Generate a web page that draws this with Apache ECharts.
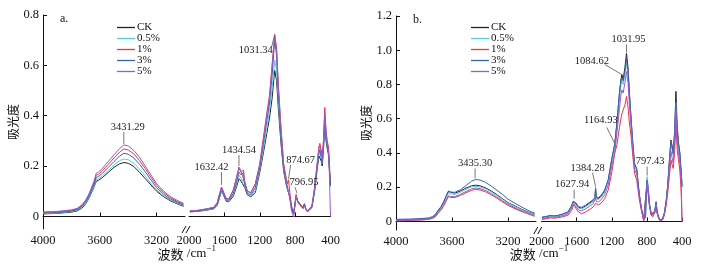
<!DOCTYPE html>
<html><head><meta charset="utf-8">
<script src="https://cdn.jsdelivr.net/npm/echarts@6/dist/echarts.min.js"></script>
<style>html,body{margin:0;padding:0;background:#fff}#c{width:706px;height:266px}</style>
</head><body><div id="c"></div>
<script>
// ---------- DATA ----------
const seriesNames = ['CK', '0.5%', '1%', '3%', '5%'];

// high-wavenumber segment (4000-3000), shared by both panels
const wnHigh = [4000, 3900, 3800, 3760, 3740, 3720, 3700, 3680, 3660, 3640, 3625, 3610, 3580, 3540, 3500, 3460, 3430, 3400, 3360, 3320, 3280, 3240, 3200, 3150, 3100, 3050, 3010];

// panel a, 4000-3000
const aHighCK = [0.010,0.012,0.017,0.022,0.028,0.036,0.050,0.068,0.092,0.118,0.140,0.143,0.155,0.175,0.195,0.209,0.214,0.211,0.198,0.175,0.150,0.125,0.100,0.078,0.061,0.049,0.040];
const aHigh05 = [0.011,0.013,0.019,0.025,0.031,0.040,0.053,0.071,0.095,0.121,0.146,0.149,0.162,0.183,0.204,0.222,0.228,0.225,0.211,0.188,0.160,0.131,0.105,0.082,0.064,0.051,0.043];
const aHigh1  = [0.016,0.018,0.024,0.030,0.037,0.047,0.062,0.081,0.107,0.135,0.164,0.167,0.183,0.207,0.232,0.256,0.268,0.264,0.248,0.222,0.190,0.156,0.123,0.095,0.073,0.058,0.049];
const aHigh3  = [0.013,0.015,0.021,0.027,0.034,0.044,0.058,0.077,0.102,0.128,0.155,0.158,0.172,0.195,0.218,0.240,0.251,0.247,0.232,0.207,0.177,0.145,0.114,0.088,0.068,0.054,0.045];
const aHigh5  = [0.018,0.020,0.026,0.032,0.040,0.050,0.065,0.085,0.112,0.142,0.172,0.175,0.192,0.218,0.245,0.270,0.284,0.280,0.262,0.235,0.200,0.165,0.130,0.100,0.078,0.062,0.052];

// panel a, 2000-400
const wnLowA = [1990,1900,1800,1720,1680,1650,1632,1610,1580,1550,1500,1460,1435,1410,1395,1384,1370,1340,1300,1250,1200,1160,1120,1090,1060,1031,1010,990,960,930,900,885,874,860,840,816,800,790,770,740,710,695,680,660,640,610,580,550,530,520,505,494,480,465,450,437,425,415,408,400];
const aLowCK = [0.018,0.020,0.025,0.030,0.045, 0.080,0.103,0.085,0.060,0.058, 0.080,0.120,0.150,0.140,0.130, 0.135,0.115,0.085,0.078,0.095, 0.175,0.250,0.330,0.390,0.470, 0.580,0.540,0.430,0.290,0.180, 0.125,0.105,0.110,0.080,0.040, 0.015,0.050,0.078,0.060,0.045, 0.035,0.050,0.030,0.020,0.015, 0.035,0.100,0.190,0.240,0.245, 0.220,0.200,0.260,0.355,0.300, 0.270,0.250,0.200,0.160,0.130];
const aLow05 = [0.019,0.021,0.026,0.031,0.047, 0.084,0.107,0.088,0.063,0.061, 0.085,0.130,0.164,0.152,0.140, 0.150,0.122,0.088,0.080,0.102, 0.185,0.265,0.350,0.420,0.510, 0.620,0.580,0.460,0.310,0.190, 0.128,0.108,0.112,0.078,0.035, 0.012,0.052,0.080,0.060,0.045, 0.034,0.050,0.030,0.020,0.016, 0.036,0.102,0.195,0.250,0.258, 0.232,0.210,0.275,0.380,0.315, 0.280,0.260,0.210,0.160,0.120];
const aLow1  = [0.022,0.024,0.030,0.036,0.055, 0.095,0.116,0.097,0.072,0.070, 0.105,0.160,0.196,0.180,0.160, 0.150,0.130,0.100,0.095,0.130, 0.210,0.310,0.410,0.480,0.600, 0.722,0.670,0.520,0.350,0.210, 0.150,0.130,0.145,0.095,0.035, 0.010,0.058,0.088,0.062,0.048, 0.036,0.050,0.032,0.022,0.018, 0.042,0.115,0.215,0.280,0.290, 0.265,0.235,0.300,0.433,0.340, 0.300,0.280,0.240,0.180,0.130];
const aLow3  = [0.020,0.022,0.028,0.033,0.050, 0.088,0.112,0.092,0.066,0.064, 0.090,0.140,0.176,0.165,0.160, 0.175,0.130,0.092,0.085,0.115, 0.195,0.285,0.380,0.450,0.560, 0.700,0.640,0.490,0.320,0.195, 0.132,0.110,0.115,0.075,0.030, 0.010,0.052,0.080,0.058,0.044, 0.033,0.048,0.030,0.018,0.015, 0.038,0.105,0.200,0.255,0.265, 0.235,0.210,0.275,0.390,0.320, 0.280,0.260,0.210,0.160,0.120];
const aLow5  = [0.022,0.024,0.030,0.036,0.055, 0.095,0.117,0.097,0.070,0.068, 0.100,0.155,0.190,0.175,0.170, 0.185,0.140,0.100,0.092,0.128, 0.205,0.300,0.400,0.470,0.600, 0.720,0.660,0.520,0.350,0.205, 0.140,0.115,0.120,0.070,0.020, -0.003,0.050,0.080,0.055,0.042, 0.030,0.045,0.028,0.018,0.015, 0.040,0.110,0.210,0.270,0.280, 0.250,0.225,0.290,0.410,0.330, 0.290,0.270,0.200,0.100,0.000];

// panel b, 4000-3000
const bHighCK = [0.008,0.010,0.014,0.018,0.024,0.035,0.060,0.080,0.110,0.150,0.176,0.170,0.165,0.178,0.195,0.208,0.212,0.208,0.196,0.178,0.157,0.133,0.110,0.090,0.070,0.053,0.042];
const bHigh05 = [0.007,0.009,0.013,0.017,0.022,0.032,0.055,0.075,0.103,0.140,0.165,0.160,0.158,0.170,0.188,0.202,0.205,0.202,0.191,0.173,0.152,0.129,0.107,0.087,0.068,0.051,0.040];
const bHigh1  = [0.003,0.005,0.009,0.013,0.018,0.026,0.047,0.065,0.090,0.122,0.145,0.140,0.140,0.152,0.168,0.182,0.187,0.184,0.173,0.156,0.136,0.114,0.094,0.074,0.057,0.042,0.030];
const bHigh3  = [0.012,0.014,0.018,0.022,0.028,0.040,0.065,0.085,0.115,0.152,0.178,0.172,0.170,0.185,0.210,0.235,0.245,0.242,0.228,0.207,0.183,0.158,0.130,0.106,0.083,0.062,0.048];
const bHigh5  = [0.005,0.007,0.011,0.015,0.020,0.028,0.050,0.068,0.094,0.128,0.150,0.145,0.145,0.158,0.175,0.190,0.195,0.192,0.181,0.163,0.143,0.121,0.100,0.080,0.062,0.046,0.034];

// panel b, 2000-400
const wnLowB = [1995,1950,1900,1880,1860,1820,1760,1700,1660,1640,1628,1610,1580,1544,1500,1450,1410,1392,1384,1376,1350,1320,1280,1240,1200,1165,1140,1112,1095,1085,1070,1050,1032,1015,1000,980,960,940,915,900,885,860,836,815,797,785,770,750,733,710,695,685,670,650,638,620,600,580,564,545,526,512,500,485,469,455,440,425,412,405,400];
const bLowCK = [0.022,0.025,0.032,0.036,0.030, 0.032,0.040,0.052,0.085,0.112, 0.122,0.105,0.083,0.078,0.090, 0.108,0.122,0.135,0.190,0.138, 0.135,0.148,0.180,0.240,0.360, 0.450,0.580,0.750,0.830,0.858, 0.830,0.900,0.982,0.900,0.760, 0.600,0.450,0.330,0.300,0.220, 0.150,0.070,0.010,0.020,0.245, 0.190,0.100,0.040,0.030,0.060, 0.115,0.060,0.030,0.008,0.005, 0.015,0.050,0.120,0.200,0.340, 0.475,0.440,0.400,0.520,0.760, 0.560,0.460,0.400,0.300,0.250, 0.200];
const bLow05 = [0.020,0.023,0.030,0.034,0.028, 0.030,0.038,0.050,0.082,0.108, 0.116,0.100,0.078,0.073,0.085, 0.102,0.116,0.128,0.165,0.130, 0.128,0.141,0.172,0.230,0.345, 0.435,0.560,0.720,0.800,0.820, 0.800,0.860,0.920,0.860,0.730, 0.585,0.440,0.325,0.295,0.220, 0.150,0.072,0.012,0.025,0.262, 0.200,0.105,0.045,0.033,0.062, 0.115,0.062,0.032,0.010,0.007, 0.017,0.052,0.118,0.195,0.330, 0.455,0.420,0.385,0.490,0.690, 0.520,0.440,0.390,0.300,0.250, 0.200];
const bLow1  = [0.012,0.015,0.021,0.025,0.019, 0.021,0.027,0.036,0.062,0.085, 0.100,0.078,0.055,0.045,0.055, 0.070,0.085,0.093,0.105,0.096, 0.097,0.107,0.133,0.185,0.285, 0.400,0.450,0.550,0.600,0.630, 0.620,0.680,0.730,0.670,0.580, 0.500,0.380,0.280,0.240,0.180, 0.125,0.058,0.003,0.012,0.200, 0.160,0.085,0.035,0.025,0.048, 0.095,0.050,0.024,0.003,0.001, 0.010,0.040,0.095,0.160,0.260, 0.360,0.330,0.310,0.400,0.565, 0.420,0.360,0.300,0.200,0.100, 0.000];
const bLow3  = [0.026,0.029,0.036,0.040,0.033, 0.035,0.044,0.056,0.090,0.118, 0.127,0.110,0.087,0.082,0.095, 0.113,0.128,0.140,0.197,0.142, 0.140,0.153,0.185,0.245,0.365, 0.455,0.585,0.750,0.820,0.840, 0.820,0.880,0.950,0.880,0.750, 0.600,0.455,0.340,0.310,0.230, 0.155,0.072,0.010,0.022,0.240, 0.185,0.100,0.042,0.032,0.060, 0.112,0.060,0.030,0.008,0.006, 0.016,0.052,0.122,0.205,0.345, 0.470,0.430,0.395,0.500,0.700, 0.530,0.450,0.400,0.310,0.260, 0.210];
const bLow5  = [0.016,0.019,0.026,0.030,0.024, 0.026,0.033,0.044,0.074,0.098, 0.106,0.090,0.068,0.062,0.073, 0.090,0.104,0.114,0.140,0.116, 0.114,0.127,0.157,0.212,0.320, 0.405,0.520,0.660,0.740,0.768, 0.750,0.810,0.875,0.810,0.690, 0.550,0.415,0.305,0.275,0.205, 0.140,0.065,0.005,0.015,0.225, 0.175,0.092,0.038,0.026,0.052, 0.100,0.052,0.024,0.003,0.001, 0.010,0.042,0.105,0.180,0.300, 0.410,0.370,0.340,0.450,0.650, 0.470,0.400,0.340,0.250,0.150, 0.000];

// tick labels
const xTicksHigh = [4000, 3600, 3200];
const xTicksLow = [2000, 1600, 1200, 800, 400];
const yTicksA = [0, 0.2, 0.4, 0.6, 0.8];
const yTicksB = [0, 0.2, 0.4, 0.6, 0.8, 1.0, 1.2];

// peak annotations: label, wavenumber, absorbance, grid index
const annText = ['3431.29','1632.42','1434.54','1031.34','874.67','796.95','3435.30','1627.94','1384.28','1164.93','1084.62','1031.95','797.43'];
const annWave = [3431, 1632, 1435, 1031, 874, 790, 3435, 1628, 1384, 1165, 1085, 1032, 797];
const annValue = [0.284, 0.117, 0.196, 0.722, 0.145, 0.088, 0.245, 0.127, 0.197, 0.455, 0.858, 0.982, 0.262];
const annGrid = [0, 1, 1, 1, 1, 1, 2, 3, 3, 3, 3, 3, 3];

// ---------- STYLE / LAYOUT ----------
const colors = ['#222222', '#55cde0', '#ec3340', '#3d5fb5', '#9b5bc8'];
// label offsets [textDx, textDy, lineX1, lineY1, lineX2, lineY2]
const annLayout = [
  [4,-18, 0,-13, 0,-1], [-10,-20, 0,-15, 0,-2], [0,-17, 0,-12, 0,-1], [-19,16, -3,12, 0,0],
  [12,-20, 2,-15, 0,-1], [8,-12, -1,-7, 1,-1],
  [0,-16, 0,-11, 0,-1], [-2,-15, 0,-10, 0,-1], [-8,-19, -3,-15, 0,-1], [-14,-23, -8,-16, 0,0],
  [-30,-13, -17,-10, 0,0], [2,-14, 0,-9, 0,-1], [3,-15, 0,-10, 0,-1]
];
const serif = '"Liberation Serif", "Times New Roman", serif';
const cjk = '"Noto Sans CJK SC", sans-serif';

const panels = [
  {high: [aHighCK, aHigh05, aHigh1, aHigh3, aHigh5], low: [aLowCK, aLow05, aLow1, aLow3, aLow5], wnLow: wnLowA, ymax: 0.8, yTicks: yTicksA},
  {high: [bHighCK, bHigh05, bHigh1, bHigh3, bHigh5], low: [bLowCK, bLow05, bLow1, bLow3, bLow5], wnLow: wnLowB, ymax: 1.2, yTicks: yTicksB}
];
const grids = [
  {left: 43, top: 15, width: 142, height: 214},
  {left: 189, top: 15, width: 141.5, height: 214},
  {left: 396, top: 16, width: 140, height: 214},
  {left: 541.5, top: 16, width: 140.5, height: 214}
];

const axisCommon = {
  axisLine: {show: true, lineStyle: {color: '#111', width: 1}},
  splitLine: {show: false}
};
const xAxes = [], yAxes = [], series = [];
panels.forEach((p, pi) => {
  [0, 1].forEach(si => {
    const gi = pi * 2 + si;
    const isHigh = si === 0;
    const ticks = isHigh ? xTicksHigh : xTicksLow;
    xAxes.push(Object.assign({}, axisCommon, {
      gridIndex: gi, type: 'value', inverse: true,
      min: isHigh ? 3000 : 400, max: isHigh ? 4000 : 2000,
      axisTick: {show: true, inside: true, length: 4, customValues: ticks.filter(t => t !== 2000), lineStyle: {color: '#111'}},
      axisLabel: {customValues: ticks, margin: 5, color: '#111', fontFamily: serif, fontSize: 12.5, formatter: v => String(v)}
    }));
    yAxes.push(Object.assign({}, axisCommon, {
      gridIndex: gi, type: 'value', min: -0.05, max: p.ymax, show: isHigh,
      axisTick: {show: true, inside: true, length: 4, customValues: p.yTicks, lineStyle: {color: '#111'}},
      axisLabel: {customValues: p.yTicks, margin: 4, color: '#111', fontFamily: serif, fontSize: 12.5,
        formatter: v => Math.abs(v) < 1e-9 ? '0' : v.toFixed(1)},
      name: isHigh ? '吸光度' : '', nameLocation: 'middle', nameRotate: 90, nameGap: 22,
      nameTextStyle: {fontFamily: cjk, fontSize: 12, color: '#111'}
    }));
    const wn = isHigh ? wnHigh : p.wnLow;
    const sets = isHigh ? p.high : p.low;
    sets.forEach((vals, k) => {
      series.push({
        name: seriesNames[k], type: 'line', xAxisIndex: gi, yAxisIndex: gi,
        data: wn.map((w, i) => [w, vals[i]]),
        showSymbol: false, symbol: 'none', color: colors[k],
        lineStyle: {width: 1, color: colors[k]}, z: 2 + k, silent: true
      });
    });
  });
});

const legendCommon = {
  orient: 'vertical', data: seriesNames, icon: 'rect', itemWidth: 18, itemHeight: 1.3, itemGap: 0,
  selectedMode: false, padding: 0,
  textStyle: {fontFamily: serif, fontSize: 11, color: '#111', lineHeight: 10, padding: [0, 0, 0, -3]}
};

const chart = echarts.init(document.getElementById('c'), null, {renderer: 'canvas', width: 706, height: 266});
chart.setOption({
  animation: false,
  backgroundColor: '#fff',
  grid: grids.map(g => Object.assign({outerBoundsMode: 'none', containLabel: false}, g)),
  xAxis: xAxes, yAxis: yAxes, series: series,
  legend: [Object.assign({left: 117, top: 22}, legendCommon), Object.assign({left: 471, top: 22}, legendCommon)]
});

// ---------- annotations & decorations ----------
const gfx = [];
annText.forEach((t, i) => {
  const pt = chart.convertToPixel({gridIndex: annGrid[i]}, [annWave[i], annValue[i]]);
  const L = annLayout[i];
  gfx.push({type: 'line', silent: true, z: 100, shape: {x1: pt[0] + L[2], y1: pt[1] + L[3], x2: pt[0] + L[4], y2: pt[1] + L[5]}, style: {stroke: '#555', lineWidth: 0.8}});
  gfx.push({type: 'text', silent: true, z: 101, x: pt[0] + L[0], y: pt[1] + L[1], style: {text: t, font: '10.5px ' + serif, fill: '#222', align: 'center', verticalAlign: 'middle'}});
});
const measure = (txt, font) => { const c = document.createElement('canvas').getContext('2d'); c.font = font; return c.measureText(txt).width; };
[0, 1].forEach(pi => {
  const g0 = pi * 2, g1 = pi * 2 + 1;
  const ymin = -0.05;
  const pEnd = chart.convertToPixel({gridIndex: g0}, [3000, ymin]);
  const pStart = chart.convertToPixel({gridIndex: g1}, [2000, ymin]);
  const pLeft = chart.convertToPixel({gridIndex: g0}, [4000, ymin]);
  const pRight = chart.convertToPixel({gridIndex: g1}, [400, ymin]);
  const mid = (pEnd[0] + pStart[0]) / 2, y = pEnd[1];
  gfx.push({type: 'line', silent: true, z: 100, shape: {x1: mid - 5, y1: y + 4, x2: mid - 1, y2: y - 3}, style: {stroke: '#111', lineWidth: 1}});
  gfx.push({type: 'line', silent: true, z: 100, shape: {x1: mid - 1, y1: y + 4, x2: mid + 3, y2: y - 3}, style: {stroke: '#111', lineWidth: 1}});
  // x axis name
  const cx = (pLeft[0] + pRight[0]) / 2;
  const mainFont = '13px ' + cjk;
  const w1 = measure('波数', '13px ' + cjk) + measure(' /cm', '13px ' + serif);
  const wsup = measure('−1', '9px ' + serif);
  const startX = cx - (w1 + wsup) / 2;
  gfx.push({type: 'text', silent: true, x: startX, y: 254, style: {text: '波数', font: '13px ' + cjk, fill: '#111', align: 'left', verticalAlign: 'middle'}});
  gfx.push({type: 'text', silent: true, x: startX + measure('波数', '13px ' + cjk), y: 254, style: {text: ' /cm', font: '13px ' + serif, fill: '#111', align: 'left', verticalAlign: 'middle'}});
  gfx.push({type: 'text', silent: true, x: startX + w1, y: 249, style: {text: '−1', font: '9px ' + serif, fill: '#111', align: 'left', verticalAlign: 'middle'}});
  // panel label
  const pTop = chart.convertToPixel({gridIndex: g0}, [4000, pi === 0 ? 0.8 : 1.2]);
  gfx.push({type: 'text', silent: true, x: pTop[0] + 17, y: pTop[1] + 4, style: {text: pi === 0 ? 'a.' : 'b.', font: '12px ' + serif, fill: '#111', align: 'left', verticalAlign: 'middle'}});
});
chart.setOption({graphic: gfx});
</script>
</body></html>
